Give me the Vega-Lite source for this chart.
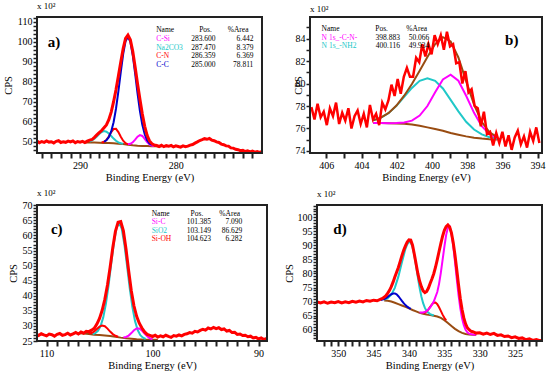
{
"$schema": "https://vega.github.io/schema/vega-lite/v6.json",
"padding": {"left": 3, "top": 1, "right": 0, "bottom": 0},
"config": {
 "view": {"stroke": null},
 "font": "Liberation Serif",
 "text": {"font": "Liberation Serif"},
 "title": {"font": "Liberation Serif", "fontSize": 9, "fontWeight": "normal", "anchor": "start", "frame": "group", "offset": 2, "color": "#000"}
},
"datasets": {
 "aComp": [
  {"s":"bg","x":289.5,"y":49.6},{"s":"bg","x":289,"y":49.6},{"s":"bg","x":288.5,"y":49.55},{"s":"bg","x":288,"y":49.5},{"s":"bg","x":287.5,"y":49.4},{"s":"bg","x":287,"y":49.3},{"s":"bg","x":286.5,"y":49.2},{"s":"bg","x":286,"y":49.0},{"s":"bg","x":285.5,"y":48.8},{"s":"bg","x":285,"y":48.5},{"s":"bg","x":284.5,"y":48.2},{"s":"bg","x":284,"y":48.0},{"s":"bg","x":283.5,"y":47.9},{"s":"bg","x":283,"y":47.8},{"s":"bg","x":282.5,"y":47.75},{"s":"bg","x":282,"y":47.7},{"s":"bg","x":281.5,"y":47.7},
  {"s":"Na2CO3","x":289,"y":50.1},{"s":"Na2CO3","x":288.75,"y":50.63},{"s":"Na2CO3","x":288.5,"y":51.47},{"s":"Na2CO3","x":288.25,"y":52.59},{"s":"Na2CO3","x":288,"y":53.83},{"s":"Na2CO3","x":287.75,"y":54.83},{"s":"Na2CO3","x":287.5,"y":55.29},{"s":"Na2CO3","x":287.25,"y":55.01},{"s":"Na2CO3","x":287,"y":54.1},{"s":"Na2CO3","x":286.75,"y":52.83},{"s":"Na2CO3","x":286.5,"y":51.55},{"s":"Na2CO3","x":286.25,"y":50.46},{"s":"Na2CO3","x":286,"y":49.69},{"s":"Na2CO3","x":285.75,"y":49.21},{"s":"Na2CO3","x":285.5,"y":48.92},
  {"s":"C-N","x":287.75,"y":49.61},{"s":"C-N","x":287.5,"y":49.96},{"s":"C-N","x":287.25,"y":50.89},{"s":"C-N","x":287,"y":52.61},{"s":"C-N","x":286.75,"y":54.78},{"s":"C-N","x":286.5,"y":56.41},{"s":"C-N","x":286.25,"y":56.42},{"s":"C-N","x":286,"y":54.79},{"s":"C-N","x":285.75,"y":52.46},{"s":"C-N","x":285.5,"y":50.51},{"s":"C-N","x":285.25,"y":49.29},{"s":"C-N","x":285,"y":48.69},
  {"s":"C-Si","x":285,"y":48.68},{"s":"C-Si","x":284.75,"y":48.95},{"s":"C-Si","x":284.5,"y":49.7},{"s":"C-Si","x":284.25,"y":51.05},{"s":"C-Si","x":284,"y":52.51},{"s":"C-Si","x":283.75,"y":53.32},{"s":"C-Si","x":283.5,"y":52.88},{"s":"C-Si","x":283.25,"y":51.45},{"s":"C-Si","x":283,"y":49.83},{"s":"C-Si","x":282.75,"y":48.67},{"s":"C-Si","x":282.5,"y":48.05},{"s":"C-Si","x":282.25,"y":47.8},
  {"s":"C-C","x":287.5,"y":49.98},{"s":"C-C","x":287.25,"y":50.72},{"s":"C-C","x":287,"y":52.26},{"s":"C-C","x":286.75,"y":55.1},{"s":"C-C","x":286.5,"y":59.75},{"s":"C-C","x":286.25,"y":66.48},{"s":"C-C","x":286,"y":75.14},{"s":"C-C","x":285.75,"y":84.8},{"s":"C-C","x":285.5,"y":93.84},{"s":"C-C","x":285.25,"y":100.26},{"s":"C-C","x":285,"y":102.5},{"s":"C-C","x":284.75,"y":99.96},{"s":"C-C","x":284.5,"y":93.24},{"s":"C-C","x":284.25,"y":84.0},{"s":"C-C","x":284,"y":74.14},{"s":"C-C","x":283.75,"y":65.33},{"s":"C-C","x":283.5,"y":58.45},{"s":"C-C","x":283.25,"y":53.7},{"s":"C-C","x":283,"y":50.76},{"s":"C-C","x":282.75,"y":49.15},{"s":"C-C","x":282.5,"y":48.33}
 ],
 "aRaw": [
  {"x":294.5,"y":50.3},{"x":294.25,"y":49.5},{"x":294,"y":50.1},{"x":293.75,"y":49.7},{"x":293.5,"y":50.4},{"x":293.25,"y":49.8},{"x":293,"y":50.0},{"x":292.75,"y":49.4},{"x":292.5,"y":50.2},{"x":292.25,"y":50.5},{"x":292,"y":49.6},{"x":291.75,"y":50.0},{"x":291.5,"y":49.7},{"x":291.25,"y":50.3},{"x":291,"y":49.9},{"x":290.75,"y":50.4},{"x":290.5,"y":49.5},{"x":290.25,"y":50.1},{"x":290,"y":49.8},{"x":289.75,"y":50.2},{"x":289.5,"y":49.6},{"x":289.25,"y":50.3},{"x":289,"y":50.8},{"x":288.75,"y":51.1},{"x":288.5,"y":52.2},{"x":288.25,"y":53.4},{"x":288,"y":54.5},{"x":287.75,"y":55.6},{"x":287.5,"y":57.0},{"x":287.25,"y":58.4},{"x":287,"y":61.0},{"x":286.75,"y":64.8},{"x":286.5,"y":70.0},{"x":286.25,"y":76.0},{"x":286,"y":82.8},{"x":285.75,"y":89.8},{"x":285.5,"y":96.6},{"x":285.25,"y":101.6},{"x":285,"y":103.3},{"x":284.75,"y":101.0},{"x":284.5,"y":95.2},{"x":284.25,"y":87.4},{"x":284,"y":79.0},{"x":283.75,"y":71.2},{"x":283.5,"y":63.8},{"x":283.25,"y":57.7},{"x":283,"y":53.2},{"x":282.75,"y":50.4},{"x":282.5,"y":49.0},{"x":282.25,"y":48.3},{"x":282,"y":48.1},{"x":281.75,"y":47.6},{"x":281.5,"y":48.2},{"x":281.25,"y":47.5},{"x":281,"y":48.0},{"x":280.75,"y":47.7},{"x":280.5,"y":48.1},{"x":280.25,"y":47.4},{"x":280,"y":47.9},{"x":279.75,"y":47.6},{"x":279.5,"y":47.3},{"x":279.25,"y":47.9},{"x":279,"y":47.5},{"x":278.75,"y":47.8},{"x":278.5,"y":48.3},{"x":278.25,"y":48.6},{"x":278,"y":49.3},{"x":277.75,"y":49.9},{"x":277.5,"y":50.6},{"x":277.25,"y":51.0},{"x":277,"y":51.5},{"x":276.75,"y":51.2},{"x":276.5,"y":51.6},{"x":276.25,"y":50.8},{"x":276,"y":50.5},{"x":275.75,"y":49.9},{"x":275.5,"y":49.6},{"x":275.25,"y":48.8},{"x":275,"y":48.5},{"x":274.75,"y":47.9},{"x":274.5,"y":47.8},{"x":274.25,"y":46.9},{"x":274,"y":46.8},{"x":273.75,"y":46.2},{"x":273.5,"y":46.0},{"x":273.25,"y":45.5},{"x":273,"y":45.7},{"x":272.75,"y":45.1},{"x":272.5,"y":45.4},{"x":272.25,"y":44.9},{"x":272,"y":45.3},{"x":271.75,"y":44.8},{"x":271.5,"y":45.1},{"x":271.25,"y":44.7},{"x":271,"y":45.0}
 ],
 "aTab": [
  {"r":0,"s":"hdr","name":"Name","pos":"Pos.","area":"%Area"},
  {"r":1,"s":"C-Si","name":"C-Si","pos":"283.600","area":"6.442"},
  {"r":2,"s":"Na2CO3","name":"Na2CO3","pos":"287.470","area":"8.379"},
  {"r":3,"s":"C-N","name":"C-N","pos":"286.359","area":"6.369"},
  {"r":4,"s":"C-C","name":"C-C","pos":"285.000","area":"78.811"}
 ],
 "bComp": [
  {"s":"bg","x":403.34,"y":76.5},{"s":"bg","x":402.9,"y":76.48},{"s":"bg","x":402.46,"y":76.47},{"s":"bg","x":402.02,"y":76.45},{"s":"bg","x":401.58,"y":76.42},{"s":"bg","x":401.14,"y":76.35},{"s":"bg","x":400.7,"y":76.25},{"s":"bg","x":400.26,"y":76.1},{"s":"bg","x":399.82,"y":75.95},{"s":"bg","x":399.38,"y":75.8},{"s":"bg","x":398.94,"y":75.6},{"s":"bg","x":398.5,"y":75.45},{"s":"bg","x":398.06,"y":75.3},{"s":"bg","x":397.61,"y":75.18},{"s":"bg","x":397.17,"y":75.1},{"s":"bg","x":396.73,"y":75.05},{"s":"bg","x":396.29,"y":75.02},
  {"s":"N 1s_-NH2","x":403.34,"y":76.72},{"s":"N 1s_-NH2","x":402.9,"y":76.96},{"s":"N 1s_-NH2","x":402.46,"y":77.38},{"s":"N 1s_-NH2","x":402.02,"y":78.01},{"s":"N 1s_-NH2","x":401.58,"y":78.81},{"s":"N 1s_-NH2","x":401.14,"y":79.61},{"s":"N 1s_-NH2","x":400.7,"y":80.24},{"s":"N 1s_-NH2","x":400.26,"y":80.47},{"s":"N 1s_-NH2","x":399.82,"y":80.24},{"s":"N 1s_-NH2","x":399.38,"y":79.56},{"s":"N 1s_-NH2","x":398.94,"y":78.55},{"s":"N 1s_-NH2","x":398.5,"y":77.52},{"s":"N 1s_-NH2","x":398.06,"y":76.6},{"s":"N 1s_-NH2","x":397.61,"y":75.91},{"s":"N 1s_-NH2","x":397.17,"y":75.47},{"s":"N 1s_-NH2","x":396.73,"y":75.22},{"s":"N 1s_-NH2","x":396.29,"y":75.09},
  {"s":"N 1s_-C-N-","x":403.34,"y":76.5},{"s":"N 1s_-C-N-","x":402.9,"y":76.48},{"s":"N 1s_-C-N-","x":402.46,"y":76.47},{"s":"N 1s_-C-N-","x":402.02,"y":76.48},{"s":"N 1s_-C-N-","x":401.58,"y":76.53},{"s":"N 1s_-C-N-","x":401.14,"y":76.7},{"s":"N 1s_-C-N-","x":400.7,"y":77.15},{"s":"N 1s_-C-N-","x":400.26,"y":78.0},{"s":"N 1s_-C-N-","x":399.82,"y":79.22},{"s":"N 1s_-C-N-","x":399.38,"y":80.37},{"s":"N 1s_-C-N-","x":398.94,"y":80.79},{"s":"N 1s_-C-N-","x":398.5,"y":80.25},{"s":"N 1s_-C-N-","x":398.06,"y":78.91},{"s":"N 1s_-C-N-","x":397.61,"y":77.39},{"s":"N 1s_-C-N-","x":397.17,"y":76.2},{"s":"N 1s_-C-N-","x":396.73,"y":75.49},{"s":"N 1s_-C-N-","x":396.29,"y":75.17},
  {"s":"env","x":403.34,"y":76.72},{"s":"env","x":402.9,"y":76.96},{"s":"env","x":402.46,"y":77.39},{"s":"env","x":402.02,"y":78.04},{"s":"env","x":401.58,"y":78.92},{"s":"env","x":401.14,"y":79.96},{"s":"env","x":400.7,"y":81.14},{"s":"env","x":400.26,"y":82.37},{"s":"env","x":399.82,"y":83.51},{"s":"env","x":399.38,"y":84.13},{"s":"env","x":398.94,"y":83.74},{"s":"env","x":398.5,"y":82.32},{"s":"env","x":398.06,"y":80.21},{"s":"env","x":397.61,"y":78.12},{"s":"env","x":397.17,"y":76.57},{"s":"env","x":396.73,"y":75.66},{"s":"env","x":396.29,"y":75.24}
 ],
 "bRaw": [
  {"x":406.85,"y":77.9},{"x":406.675,"y":76.8},{"x":406.5,"y":78.2},{"x":406.325,"y":77.0},{"x":406.15,"y":77.5},{"x":405.975,"y":76.3},{"x":405.8,"y":77.8},{"x":405.625,"y":77.1},{"x":405.45,"y":78.3},{"x":405.275,"y":76.4},{"x":405.1,"y":77.4},{"x":404.925,"y":76.7},{"x":404.75,"y":77.8},{"x":404.575,"y":76.0},{"x":404.4,"y":77.1},{"x":404.225,"y":77.6},{"x":404.05,"y":76.4},{"x":403.875,"y":77.3},{"x":403.7,"y":76.1},{"x":403.525,"y":78.1},{"x":403.35,"y":76.8},{"x":403.175,"y":77.3},{"x":403.0,"y":76.3},{"x":402.825,"y":78.3},{"x":402.65,"y":77.7},{"x":402.475,"y":78.5},{"x":402.3,"y":79.9},{"x":402.125,"y":78.9},{"x":401.95,"y":80.4},{"x":401.775,"y":79.1},{"x":401.6,"y":80.6},{"x":401.425,"y":81.4},{"x":401.25,"y":80.6},{"x":401.075,"y":80.6},{"x":400.9,"y":82.3},{"x":400.725,"y":81.9},{"x":400.55,"y":83.5},{"x":400.375,"y":82.4},{"x":400.2,"y":83.5},{"x":400.025,"y":82.6},{"x":399.85,"y":84.3},{"x":399.675,"y":83.5},{"x":399.5,"y":84.3},{"x":399.325,"y":83.0},{"x":399.15,"y":84.6},{"x":398.975,"y":83.3},{"x":398.8,"y":83.5},{"x":398.625,"y":81.8},{"x":398.45,"y":81.9},{"x":398.275,"y":80.0},{"x":398.1,"y":81.1},{"x":397.925,"y":79.2},{"x":397.75,"y":79.5},{"x":397.575,"y":78.0},{"x":397.4,"y":77.8},{"x":397.225,"y":76.2},{"x":397.05,"y":77.5},{"x":396.875,"y":75.5},{"x":396.7,"y":75.7},{"x":396.525,"y":74.5},{"x":396.35,"y":75.6},{"x":396.175,"y":74.7},{"x":396.0,"y":75.7},{"x":395.825,"y":74.4},{"x":395.65,"y":75.4},{"x":395.475,"y":74.1},{"x":395.3,"y":75.2},{"x":395.125,"y":75.8},{"x":394.95,"y":74.6},{"x":394.775,"y":75.3},{"x":394.6,"y":74.3},{"x":394.425,"y":75.7},{"x":394.25,"y":74.9},{"x":394.075,"y":76.1},{"x":393.9,"y":74.7}
 ],
 "bTab": [
  {"r":0,"s":"hdr","name":"Name","pos":"Pos.","area":"%Area"},
  {"r":1,"s":"N 1s_-C-N-","name":"N 1s_-C-N-","pos":"398.883","area":"50.066"},
  {"r":2,"s":"N 1s_-NH2","name":"N 1s_-NH2","pos":"400.116","area":"49.934"}
 ],
 "cComp": [
  {"s":"bg","x":107,"y":27.6},{"s":"bg","x":106.5,"y":27.45},{"s":"bg","x":106,"y":27.3},{"s":"bg","x":105.5,"y":27.1},{"s":"bg","x":105,"y":26.95},{"s":"bg","x":104.5,"y":26.82},{"s":"bg","x":104,"y":26.65},{"s":"bg","x":103.5,"y":26.42},{"s":"bg","x":103,"y":26.12},{"s":"bg","x":102.5,"y":25.9},{"s":"bg","x":102,"y":25.75},{"s":"bg","x":101.5,"y":25.6},{"s":"bg","x":101,"y":25.5},{"s":"bg","x":100.5,"y":25.45},{"s":"bg","x":100,"y":25.4},{"s":"bg","x":99.5,"y":25.4},
  {"s":"SiO2","x":105.65,"y":27.27},{"s":"SiO2","x":105.4,"y":27.59},{"s":"SiO2","x":105.15,"y":28.37},{"s":"SiO2","x":104.9,"y":29.97},{"s":"SiO2","x":104.65,"y":32.83},{"s":"SiO2","x":104.4,"y":37.33},{"s":"SiO2","x":104.15,"y":43.41},{"s":"SiO2","x":103.9,"y":50.54},{"s":"SiO2","x":103.65,"y":57.44},{"s":"SiO2","x":103.4,"y":62.45},{"s":"SiO2","x":103.15,"y":64.2},{"s":"SiO2","x":102.9,"y":62.15},{"s":"SiO2","x":102.65,"y":56.89},{"s":"SiO2","x":102.4,"y":49.79},{"s":"SiO2","x":102.15,"y":42.46},{"s":"SiO2","x":101.9,"y":36.23},{"s":"SiO2","x":101.65,"y":31.58},{"s":"SiO2","x":101.4,"y":28.62},{"s":"SiO2","x":101.15,"y":26.92},{"s":"SiO2","x":100.9,"y":26.09},{"s":"SiO2","x":100.65,"y":25.67},
  {"s":"Si-OH","x":106,"y":27.55},{"s":"Si-OH","x":105.75,"y":27.63},{"s":"Si-OH","x":105.5,"y":28.15},{"s":"Si-OH","x":105.25,"y":28.97},{"s":"Si-OH","x":105,"y":29.76},{"s":"Si-OH","x":104.75,"y":30.16},{"s":"Si-OH","x":104.5,"y":29.91},{"s":"Si-OH","x":104.25,"y":29.11},{"s":"Si-OH","x":104,"y":28.12},{"s":"Si-OH","x":103.75,"y":27.29},{"s":"Si-OH","x":103.5,"y":26.73},{"s":"Si-OH","x":103.25,"y":26.4},
  {"s":"Si-C","x":102.75,"y":26.15},{"s":"Si-C","x":102.5,"y":26.33},{"s":"Si-C","x":102.25,"y":26.8},{"s":"Si-C","x":102,"y":27.63},{"s":"Si-C","x":101.75,"y":28.56},{"s":"Si-C","x":101.5,"y":29.18},{"s":"Si-C","x":101.25,"y":29.18},{"s":"Si-C","x":101,"y":28.49},{"s":"Si-C","x":100.75,"y":27.48},{"s":"Si-C","x":100.5,"y":26.54},{"s":"Si-C","x":100.25,"y":25.9},{"s":"Si-C","x":100,"y":25.57}
 ],
 "cRaw": [
  {"x":111,"y":27.3},{"x":110.75,"y":26.8},{"x":110.5,"y":27.4},{"x":110.25,"y":27.0},{"x":110,"y":26.7},{"x":109.75,"y":27.3},{"x":109.5,"y":27.1},{"x":109.25,"y":26.6},{"x":109,"y":27.2},{"x":108.75,"y":27.5},{"x":108.5,"y":26.9},{"x":108.25,"y":27.1},{"x":108,"y":27.6},{"x":107.75,"y":27.0},{"x":107.5,"y":27.4},{"x":107.25,"y":27.8},{"x":107,"y":27.3},{"x":106.75,"y":28.0},{"x":106.5,"y":27.6},{"x":106.25,"y":28.2},{"x":106,"y":28.1},{"x":105.75,"y":28.6},{"x":105.5,"y":29.2},{"x":105.25,"y":30.6},{"x":105,"y":32.5},{"x":104.75,"y":35.2},{"x":104.5,"y":38.8},{"x":104.25,"y":43.6},{"x":104,"y":49.5},{"x":103.75,"y":55.9},{"x":103.5,"y":61.4},{"x":103.25,"y":64.4},{"x":103,"y":64.6},{"x":102.75,"y":61.5},{"x":102.5,"y":55.4},{"x":102.25,"y":48.2},{"x":102,"y":41.6},{"x":101.75,"y":36.6},{"x":101.5,"y":33.2},{"x":101.25,"y":30.9},{"x":101,"y":29.3},{"x":100.75,"y":28.0},{"x":100.5,"y":27.2},{"x":100.25,"y":26.9},{"x":100,"y":26.5},{"x":99.75,"y":26.9},{"x":99.5,"y":26.3},{"x":99.25,"y":26.7},{"x":99,"y":26.4},{"x":98.75,"y":26.9},{"x":98.5,"y":26.5},{"x":98.25,"y":26.2},{"x":98,"y":26.8},{"x":97.75,"y":26.6},{"x":97.5,"y":27.0},{"x":97.25,"y":26.7},{"x":97,"y":27.2},{"x":96.75,"y":27.4},{"x":96.5,"y":27.8},{"x":96.25,"y":27.6},{"x":96,"y":28.2},{"x":95.75,"y":28.0},{"x":95.5,"y":28.5},{"x":95.25,"y":28.9},{"x":95,"y":28.6},{"x":94.75,"y":29.3},{"x":94.5,"y":29.0},{"x":94.25,"y":29.5},{"x":94,"y":29.1},{"x":93.75,"y":29.4},{"x":93.5,"y":28.8},{"x":93.25,"y":29.0},{"x":93,"y":28.3},{"x":92.75,"y":28.5},{"x":92.5,"y":27.8},{"x":92.25,"y":27.9},{"x":92,"y":27.2},{"x":91.75,"y":27.3},{"x":91.5,"y":26.8},{"x":91.25,"y":26.9},{"x":91,"y":26.4},{"x":90.75,"y":26.6},{"x":90.5,"y":26.0},{"x":90.25,"y":26.2},{"x":90,"y":25.7},{"x":89.75,"y":26.0},{"x":89.5,"y":25.5},{"x":89.25,"y":25.8},{"x":89,"y":25.4},{"x":88.75,"y":25.6}
 ],
 "cTab": [
  {"r":0,"s":"hdr","name":"Name","pos":"Pos.","area":"%Area"},
  {"r":1,"s":"Si-C","name":"Si-C","pos":"101.385","area":"7.090"},
  {"r":2,"s":"SiO2","name":"SiO2","pos":"103.149","area":"86.629"},
  {"r":3,"s":"Si-OH","name":"Si-OH","pos":"104.623","area":"6.282"}
 ],
 "dComp": [
  {"s":"bg","x":343.5,"y":70.4},{"s":"bg","x":343,"y":70.3},{"s":"bg","x":342.5,"y":70.0},{"s":"bg","x":342,"y":69.6},{"s":"bg","x":341.5,"y":69.1},{"s":"bg","x":341,"y":68.6},{"s":"bg","x":340.5,"y":68.1},{"s":"bg","x":340,"y":67.6},{"s":"bg","x":339.5,"y":67.0},{"s":"bg","x":339,"y":66.5},{"s":"bg","x":338.5,"y":66.0},{"s":"bg","x":338,"y":65.7},{"s":"bg","x":337.5,"y":65.45},{"s":"bg","x":337,"y":65.25},{"s":"bg","x":336.5,"y":65.0},{"s":"bg","x":336,"y":64.7},{"s":"bg","x":335.5,"y":64.2},{"s":"bg","x":335,"y":63.4},{"s":"bg","x":334.5,"y":62.4},{"s":"bg","x":334,"y":61.3},{"s":"bg","x":333.5,"y":60.3},{"s":"bg","x":333,"y":59.5},{"s":"bg","x":332.5,"y":58.9},{"s":"bg","x":332,"y":58.5},{"s":"bg","x":331.5,"y":58.3},{"s":"bg","x":331,"y":58.2},{"s":"bg","x":330.5,"y":58.15},
  {"s":"dC","x":343.5,"y":70.72},{"s":"dC","x":343,"y":71.25},{"s":"dC","x":342.5,"y":72.43},{"s":"dC","x":342,"y":74.87},{"s":"dC","x":341.5,"y":78.85},{"s":"dC","x":341,"y":83.96},{"s":"dC","x":340.5,"y":88.72},{"s":"dC","x":340.25,"y":90.34},{"s":"dC","x":340,"y":91.18},{"s":"dC","x":339.75,"y":91.02},{"s":"dC","x":339.5,"y":89.41},{"s":"dC","x":339.25,"y":86.5},{"s":"dC","x":339,"y":82.75},{"s":"dC","x":338.75,"y":78.72},{"s":"dC","x":338.5,"y":74.93},{"s":"dC","x":338.25,"y":71.82},{"s":"dC","x":338,"y":69.42},{"s":"dC","x":337.75,"y":67.74},{"s":"dC","x":337.5,"y":66.63},{"s":"dC","x":337,"y":65.53},{"s":"dC","x":336.5,"y":65.05},
  {"s":"dB","x":344,"y":70.52},{"s":"dB","x":343.5,"y":70.9},{"s":"dB","x":343.25,"y":71.23},{"s":"dB","x":343,"y":71.69},{"s":"dB","x":342.75,"y":72.15},{"s":"dB","x":342.5,"y":72.61},{"s":"dB","x":342.25,"y":72.88},{"s":"dB","x":342,"y":72.89},{"s":"dB","x":341.75,"y":72.55},{"s":"dB","x":341.5,"y":71.92},{"s":"dB","x":341.25,"y":71.1},{"s":"dB","x":341,"y":70.23},{"s":"dB","x":340.75,"y":69.42},{"s":"dB","x":340.5,"y":68.74},{"s":"dB","x":340.25,"y":68.2},{"s":"dB","x":340,"y":67.77},{"s":"dB","x":339.75,"y":67.38},
  {"s":"dR","x":338,"y":65.95},{"s":"dR","x":337.75,"y":66.13},{"s":"dR","x":337.5,"y":66.55},{"s":"dR","x":337.25,"y":67.26},{"s":"dR","x":337,"y":68.16},{"s":"dR","x":336.75,"y":69.02},{"s":"dR","x":336.5,"y":69.61},{"s":"dR","x":336.25,"y":69.64},{"s":"dR","x":336,"y":69.08},{"s":"dR","x":335.75,"y":67.98},{"s":"dR","x":335.5,"y":66.7},{"s":"dR","x":335.25,"y":65.36},{"s":"dR","x":335,"y":64.26},{"s":"dR","x":334.75,"y":63.31},
  {"s":"dM","x":338.5,"y":66.1},{"s":"dM","x":338,"y":66.1},{"s":"dM","x":337.5,"y":66.6},{"s":"dM","x":337,"y":67.9},{"s":"dM","x":336.5,"y":70.0},{"s":"dM","x":336,"y":73.4},{"s":"dM","x":335.75,"y":76.3},{"s":"dM","x":335.5,"y":80.2},{"s":"dM","x":335.25,"y":84.8},{"s":"dM","x":335,"y":89.4},{"s":"dM","x":334.75,"y":93.6},{"s":"dM","x":334.5,"y":96.3},{"s":"dM","x":334.25,"y":96.6},{"s":"dM","x":334,"y":94.2},{"s":"dM","x":333.75,"y":89.9},{"s":"dM","x":333.5,"y":84.2},{"s":"dM","x":333.25,"y":78.1},{"s":"dM","x":333,"y":72.4},{"s":"dM","x":332.75,"y":67.7},{"s":"dM","x":332.5,"y":64.1},{"s":"dM","x":332.25,"y":61.6},{"s":"dM","x":332,"y":60.0},{"s":"dM","x":331.75,"y":59.1},{"s":"dM","x":331.5,"y":58.6},{"s":"dM","x":331,"y":58.3},{"s":"dM","x":330.5,"y":58.2}
 ],
 "dRaw": [
  {"x":353,"y":69.9},{"x":352.5,"y":69.5},{"x":352,"y":69.9},{"x":351.5,"y":69.4},{"x":351,"y":69.8},{"x":350.5,"y":69.6},{"x":350,"y":70.0},{"x":349.5,"y":69.5},{"x":349,"y":69.9},{"x":348.5,"y":69.6},{"x":348,"y":70.1},{"x":347.5,"y":69.8},{"x":347,"y":70.2},{"x":346.5,"y":69.9},{"x":346,"y":70.4},{"x":345.5,"y":70.1},{"x":345,"y":70.5},{"x":344.5,"y":70.3},{"x":344,"y":70.9},{"x":343.75,"y":71.1},{"x":343.5,"y":71.6},{"x":343.25,"y":72.1},{"x":343,"y":73.0},{"x":342.75,"y":74.0},{"x":342.5,"y":75.3},{"x":342.25,"y":76.9},{"x":342,"y":78.7},{"x":341.75,"y":80.4},{"x":341.5,"y":82.1},{"x":341.25,"y":84.2},{"x":341,"y":86.3},{"x":340.75,"y":88.2},{"x":340.5,"y":89.8},{"x":340.25,"y":91.1},{"x":340,"y":91.9},{"x":339.75,"y":91.8},{"x":339.5,"y":90.0},{"x":339.25,"y":86.9},{"x":339,"y":83.4},{"x":338.75,"y":80.0},{"x":338.5,"y":77.3},{"x":338.25,"y":75.3},{"x":338,"y":73.8},{"x":337.75,"y":73.2},{"x":337.5,"y":73.6},{"x":337.25,"y":74.8},{"x":337,"y":76.5},{"x":336.75,"y":78.1},{"x":336.5,"y":79.9},{"x":336.25,"y":82.2},{"x":336,"y":84.9},{"x":335.75,"y":87.8},{"x":335.5,"y":90.6},{"x":335.25,"y":93.2},{"x":335,"y":95.3},{"x":334.75,"y":96.6},{"x":334.5,"y":97.2},{"x":334.25,"y":96.5},{"x":334,"y":94.4},{"x":333.75,"y":91.0},{"x":333.5,"y":86.6},{"x":333.25,"y":81.4},{"x":333,"y":76.0},{"x":332.75,"y":71.1},{"x":332.5,"y":67.2},{"x":332.25,"y":64.2},{"x":332,"y":62.1},{"x":331.75,"y":60.7},{"x":331.5,"y":60.0},{"x":331.25,"y":59.5},{"x":331,"y":59.3},{"x":330.5,"y":58.8},{"x":330,"y":58.9},{"x":329.5,"y":58.4},{"x":329,"y":58.8},{"x":328.5,"y":58.3},{"x":328,"y":58.7},{"x":327.5,"y":58.0},{"x":327,"y":58.2},{"x":326.5,"y":57.6},{"x":326,"y":57.8},{"x":325.5,"y":57.2},{"x":325,"y":57.5},{"x":324.5,"y":56.9},{"x":324,"y":57.1},{"x":323.5,"y":56.5},{"x":323,"y":56.8},{"x":322.5,"y":56.2},{"x":322,"y":56.5},{"x":321.5,"y":56.1},{"x":321.2,"y":56.3}
 ]
},
"spacing": 6,
"vconcat": [
 {"spacing": 48, "bounds": "flush", "hconcat": [
  {"title": {"text": "x 10²"}, "width": 225, "height": 136,
   "resolve": {"scale": {"x": "independent", "y": "independent"}},
   "layer": [
    {"data": {"name": "aComp"}, "mark": {"type": "line", "strokeWidth": 2, "clip": true},
     "encoding": {
      "x": {"field": "x", "type": "quantitative", "scale": {"domain": [271.0, 294.5], "reverse": true, "nice": false, "zero": false},
            "axis": {"title": "Binding Energy (eV)", "values": [272,273,274,275,276,277,278,279,280,281,282,283,284,285,286,287,288,289,290,291,292,293,294], "labelExpr": "datum.value % 10 === 0 ? datum.label : ''", "format": "d", "domain": false, "grid": false, "ticks": true, "tickColor": "#222222", "tickSize": 5, "tickWidth": 2, "labelFont": "Liberation Serif", "labelFontSize": 10, "labelColor": "#000", "labelPadding": 2, "labelFlush": false, "labelOverlap": false, "titleFont": "Liberation Serif", "titleFontSize": 10.5, "titleFontWeight": "normal", "titleColor": "#000", "titlePadding": 2}},
      "y": {"field": "y", "type": "quantitative", "scale": {"domain": [44.35, 112.35], "nice": false, "zero": false},
            "axis": {"title": "CPS", "values": [46,48,50,52,54,56,58,60,62,64,66,68,70,72,74,76,78,80,82,84,86,88,90,92,94,96,98,100,102,104,106,108,110,112], "labelExpr": "datum.value % 10 === 0 ? datum.label : ''", "format": "d", "minExtent": 21, "maxExtent": 21, "domain": false, "grid": false, "ticks": true, "tickColor": "#222222", "tickSize": 4, "tickWidth": 1.5, "labelFont": "Liberation Serif", "labelFontSize": 10, "labelColor": "#000", "labelPadding": 1, "labelOverlap": false, "titleFont": "Liberation Serif", "titleFontSize": 10.5, "titleFontWeight": "normal", "titleColor": "#000", "titlePadding": 3}},
      "color": {"field": "s", "type": "nominal", "legend": null, "scale": {"domain": ["raw","bg","env","hdr","C-Si","Na2CO3","C-N","C-C","N 1s_-C-N-","N 1s_-NH2","Si-C","SiO2","Si-OH","dM","dC","dR","dB"], "range": ["#ff0000","#994c12","#994c12","#000000","#ff00ff","#20c8c8","#ff0000","#0000cc","#ff00ff","#20c8c8","#ff00ff","#20c8c8","#ff0000","#ff00ff","#20c8c8","#ff0000","#0000cc"]}}
     }},
    {"data": {"name": "aRaw"}, "mark": {"type": "line", "strokeWidth": 3, "color": "#ff0000", "clip": true},
     "encoding": {
      "x": {"field": "x", "type": "quantitative", "scale": {"domain": [271.0, 294.5], "reverse": true, "nice": false, "zero": false}, "axis": null},
      "y": {"field": "y", "type": "quantitative", "scale": {"domain": [44.35, 112.35], "nice": false, "zero": false}, "axis": null}
     }},
    {"data": {"values": [{"k": 1}]}, "mark": {"type": "rect", "filled": false, "color": "#222222", "strokeWidth": 2},
     "encoding": {
      "x": {"datum": 271.0, "type": "quantitative", "scale": {"domain": [271.0, 294.5], "reverse": true, "nice": false, "zero": false}, "axis": null},
      "x2": {"datum": 294.5},
      "y": {"datum": 44.35, "type": "quantitative", "scale": {"domain": [44.35, 112.35], "nice": false, "zero": false}, "axis": null},
      "y2": {"datum": 112.35}
     }},
    {"data": {"name": "aTab"}, "mark": {"type": "text", "align": "left", "baseline": "middle", "fontSize": 7.5},
     "encoding": {
      "x": {"datum": 282.05, "type": "quantitative", "scale": {"domain": [271.0, 294.5], "reverse": true, "nice": false, "zero": false}, "axis": null},
      "y": {"field": "r", "type": "quantitative", "scale": {"domain": [-1.49, 14.06], "reverse": true, "nice": false, "zero": false}, "axis": null},
      "text": {"field": "name"},
      "color": {"field": "s", "type": "nominal", "legend": null, "scale": {"domain": ["raw","bg","env","hdr","C-Si","Na2CO3","C-N","C-C","N 1s_-C-N-","N 1s_-NH2","Si-C","SiO2","Si-OH","dM","dC","dR","dB"], "range": ["#ff0000","#994c12","#994c12","#000000","#ff00ff","#20c8c8","#ff0000","#0000cc","#ff00ff","#20c8c8","#ff00ff","#20c8c8","#ff0000","#ff00ff","#20c8c8","#ff0000","#0000cc"]}}
     }},
    {"data": {"name": "aTab"}, "transform": [{"filter": "datum.r > 0"}], "mark": {"type": "text", "align": "right", "baseline": "middle", "fontSize": 7.5, "color": "#000"},
     "encoding": {
      "x": {"datum": 275.85, "type": "quantitative", "scale": {"domain": [271.0, 294.5], "reverse": true, "nice": false, "zero": false}, "axis": null},
      "y": {"field": "r", "type": "quantitative", "scale": {"domain": [-1.49, 14.06], "reverse": true, "nice": false, "zero": false}, "axis": null},
      "text": {"field": "pos"}
     }},
    {"data": {"name": "aTab"}, "transform": [{"filter": "datum.r > 0"}], "mark": {"type": "text", "align": "right", "baseline": "middle", "fontSize": 7.5, "color": "#000"},
     "encoding": {
      "x": {"datum": 271.9, "type": "quantitative", "scale": {"domain": [271.0, 294.5], "reverse": true, "nice": false, "zero": false}, "axis": null},
      "y": {"field": "r", "type": "quantitative", "scale": {"domain": [-1.49, 14.06], "reverse": true, "nice": false, "zero": false}, "axis": null},
      "text": {"field": "area"}
     }},
    {"data": {"name": "aTab"}, "transform": [{"filter": "datum.r == 0"}], "mark": {"type": "text", "align": "center", "baseline": "middle", "fontSize": 7.5, "color": "#000"},
     "encoding": {
      "x": {"datum": 276.9, "type": "quantitative", "scale": {"domain": [271.0, 294.5], "reverse": true, "nice": false, "zero": false}, "axis": null},
      "y": {"field": "r", "type": "quantitative", "scale": {"domain": [-1.49, 14.06], "reverse": true, "nice": false, "zero": false}, "axis": null},
      "text": {"field": "pos"}
     }},
    {"data": {"name": "aTab"}, "transform": [{"filter": "datum.r == 0"}], "mark": {"type": "text", "align": "center", "baseline": "middle", "fontSize": 7.5, "color": "#000"},
     "encoding": {
      "x": {"datum": 273.5, "type": "quantitative", "scale": {"domain": [271.0, 294.5], "reverse": true, "nice": false, "zero": false}, "axis": null},
      "y": {"field": "r", "type": "quantitative", "scale": {"domain": [-1.49, 14.06], "reverse": true, "nice": false, "zero": false}, "axis": null},
      "text": {"field": "area"}
     }},
    {"data": {"name": "aTab"}, "transform": [{"filter": "datum.r == 0"}], "mark": {"type": "text", "align": "center", "baseline": "middle", "fontSize": 15, "fontWeight": "bold", "color": "#000"},
     "encoding": {
      "x": {"datum": 292.73, "type": "quantitative", "scale": {"domain": [271.0, 294.5], "reverse": true, "nice": false, "zero": false}, "axis": null},
      "y": {"datum": 100, "type": "quantitative", "scale": {"domain": [44.35, 112.35], "nice": false, "zero": false}, "axis": null},
      "text": {"value": "a)"}
     }}
   ]},
  {"title": {"text": "x 10²"}, "width": 232, "height": 136,
   "resolve": {"scale": {"x": "independent", "y": "independent"}},
   "layer": [
    {"data": {"name": "bComp"}, "mark": {"type": "line", "strokeWidth": 2, "clip": true},
     "encoding": {
      "x": {"field": "x", "type": "quantitative", "scale": {"domain": [393.75, 406.93], "reverse": true, "nice": false, "zero": false},
            "axis": {"title": "Binding Energy (eV)", "values": [394,394.5,395,395.5,396,396.5,397,397.5,398,398.5,399,399.5,400,400.5,401,401.5,402,402.5,403,403.5,404,404.5,405,405.5,406,406.5], "labelExpr": "datum.value % 2 === 0 ? datum.label : ''", "format": "d", "domain": false, "grid": false, "ticks": true, "tickColor": "#222222", "tickSize": 5, "tickWidth": 2, "labelFont": "Liberation Serif", "labelFontSize": 10, "labelColor": "#000", "labelPadding": 2, "labelFlush": false, "labelOverlap": false, "titleFont": "Liberation Serif", "titleFontSize": 10.5, "titleFontWeight": "normal", "titleColor": "#000", "titlePadding": 2}},
      "y": {"field": "y", "type": "quantitative", "scale": {"domain": [73.82, 85.92], "nice": false, "zero": false},
            "axis": {"title": "CPS", "values": [74,74.5,75,75.5,76,76.5,77,77.5,78,78.5,79,79.5,80,80.5,81,81.5,82,82.5,83,83.5,84,84.5,85,85.5], "labelExpr": "datum.value % 2 === 0 ? datum.label : ''", "format": "d", "minExtent": 16, "maxExtent": 16, "domain": false, "grid": false, "ticks": true, "tickColor": "#222222", "tickSize": 4, "tickWidth": 1.5, "labelFont": "Liberation Serif", "labelFontSize": 10, "labelColor": "#000", "labelPadding": 1, "labelOverlap": false, "titleFont": "Liberation Serif", "titleFontSize": 10.5, "titleFontWeight": "normal", "titleColor": "#000", "titlePadding": -9}},
      "color": {"field": "s", "type": "nominal", "legend": null, "scale": {"domain": ["raw","bg","env","hdr","C-Si","Na2CO3","C-N","C-C","N 1s_-C-N-","N 1s_-NH2","Si-C","SiO2","Si-OH","dM","dC","dR","dB"], "range": ["#ff0000","#994c12","#994c12","#000000","#ff00ff","#20c8c8","#ff0000","#0000cc","#ff00ff","#20c8c8","#ff00ff","#20c8c8","#ff0000","#ff00ff","#20c8c8","#ff0000","#0000cc"]}}
     }},
    {"data": {"name": "bRaw"}, "mark": {"type": "line", "strokeWidth": 2.5, "color": "#ff0000", "clip": true},
     "encoding": {
      "x": {"field": "x", "type": "quantitative", "scale": {"domain": [393.75, 406.93], "reverse": true, "nice": false, "zero": false}, "axis": null},
      "y": {"field": "y", "type": "quantitative", "scale": {"domain": [73.82, 85.92], "nice": false, "zero": false}, "axis": null}
     }},
    {"data": {"values": [{"k": 1}]}, "mark": {"type": "rect", "filled": false, "color": "#222222", "strokeWidth": 2},
     "encoding": {
      "x": {"datum": 393.75, "type": "quantitative", "scale": {"domain": [393.75, 406.93], "reverse": true, "nice": false, "zero": false}, "axis": null},
      "x2": {"datum": 406.93},
      "y": {"datum": 73.82, "type": "quantitative", "scale": {"domain": [73.82, 85.92], "nice": false, "zero": false}, "axis": null},
      "y2": {"datum": 85.92}
     }},
    {"data": {"name": "bTab"}, "mark": {"type": "text", "align": "left", "baseline": "middle", "fontSize": 7.5},
     "encoding": {
      "x": {"datum": 406.27, "type": "quantitative", "scale": {"domain": [393.75, 406.93], "reverse": true, "nice": false, "zero": false}, "axis": null},
      "y": {"field": "r", "type": "quantitative", "scale": {"domain": [-1.35, 14.19], "reverse": true, "nice": false, "zero": false}, "axis": null},
      "text": {"field": "name"},
      "color": {"field": "s", "type": "nominal", "legend": null, "scale": {"domain": ["raw","bg","env","hdr","C-Si","Na2CO3","C-N","C-C","N 1s_-C-N-","N 1s_-NH2","Si-C","SiO2","Si-OH","dM","dC","dR","dB"], "range": ["#ff0000","#994c12","#994c12","#000000","#ff00ff","#20c8c8","#ff0000","#0000cc","#ff00ff","#20c8c8","#ff00ff","#20c8c8","#ff0000","#ff00ff","#20c8c8","#ff0000","#0000cc"]}}
     }},
    {"data": {"name": "bTab"}, "transform": [{"filter": "datum.r > 0"}], "mark": {"type": "text", "align": "right", "baseline": "middle", "fontSize": 7.5, "color": "#000"},
     "encoding": {
      "x": {"datum": 401.82, "type": "quantitative", "scale": {"domain": [393.75, 406.93], "reverse": true, "nice": false, "zero": false}, "axis": null},
      "y": {"field": "r", "type": "quantitative", "scale": {"domain": [-1.35, 14.19], "reverse": true, "nice": false, "zero": false}, "axis": null},
      "text": {"field": "pos"}
     }},
    {"data": {"name": "bTab"}, "transform": [{"filter": "datum.r > 0"}], "mark": {"type": "text", "align": "right", "baseline": "middle", "fontSize": 7.5, "color": "#000"},
     "encoding": {
      "x": {"datum": 400.15, "type": "quantitative", "scale": {"domain": [393.75, 406.93], "reverse": true, "nice": false, "zero": false}, "axis": null},
      "y": {"field": "r", "type": "quantitative", "scale": {"domain": [-1.35, 14.19], "reverse": true, "nice": false, "zero": false}, "axis": null},
      "text": {"field": "area"}
     }},
    {"data": {"name": "bTab"}, "transform": [{"filter": "datum.r == 0"}], "mark": {"type": "text", "align": "center", "baseline": "middle", "fontSize": 7.5, "color": "#000"},
     "encoding": {
      "x": {"datum": 402.86, "type": "quantitative", "scale": {"domain": [393.75, 406.93], "reverse": true, "nice": false, "zero": false}, "axis": null},
      "y": {"field": "r", "type": "quantitative", "scale": {"domain": [-1.35, 14.19], "reverse": true, "nice": false, "zero": false}, "axis": null},
      "text": {"field": "pos"}
     }},
    {"data": {"name": "bTab"}, "transform": [{"filter": "datum.r == 0"}], "mark": {"type": "text", "align": "center", "baseline": "middle", "fontSize": 7.5, "color": "#000"},
     "encoding": {
      "x": {"datum": 400.87, "type": "quantitative", "scale": {"domain": [393.75, 406.93], "reverse": true, "nice": false, "zero": false}, "axis": null},
      "y": {"field": "r", "type": "quantitative", "scale": {"domain": [-1.35, 14.19], "reverse": true, "nice": false, "zero": false}, "axis": null},
      "text": {"field": "area"}
     }},
    {"data": {"name": "bTab"}, "transform": [{"filter": "datum.r == 0"}], "mark": {"type": "text", "align": "center", "baseline": "middle", "fontSize": 15, "fontWeight": "bold", "color": "#000"},
     "encoding": {
      "x": {"datum": 395.47, "type": "quantitative", "scale": {"domain": [393.75, 406.93], "reverse": true, "nice": false, "zero": false}, "axis": null},
      "y": {"datum": 83.87, "type": "quantitative", "scale": {"domain": [73.82, 85.92], "nice": false, "zero": false}, "axis": null},
      "text": {"value": "b)"}
     }}
   ]}
 ]},
 {"spacing": 50, "bounds": "flush", "hconcat": [
  {"title": {"text": "x 10²"}, "width": 230, "height": 136,
   "resolve": {"scale": {"x": "independent", "y": "independent"}},
   "layer": [
    {"data": {"name": "cComp"}, "mark": {"type": "line", "strokeWidth": 2, "clip": true},
     "encoding": {
      "x": {"field": "x", "type": "quantitative", "scale": {"domain": [89.2, 110.9], "reverse": true, "nice": false, "zero": false},
            "axis": {"title": "Binding Energy (eV)", "values": [90,91,92,93,94,95,96,97,98,99,100,101,102,103,104,105,106,107,108,109,110], "labelExpr": "datum.value % 10 === 0 ? datum.label : ''", "format": "d", "domain": false, "grid": false, "ticks": true, "tickColor": "#222222", "tickSize": 5, "tickWidth": 2, "labelFont": "Liberation Serif", "labelFontSize": 10, "labelColor": "#000", "labelPadding": 2, "labelFlush": false, "labelOverlap": false, "titleFont": "Liberation Serif", "titleFontSize": 10.5, "titleFontWeight": "normal", "titleColor": "#000", "titlePadding": 2}},
      "y": {"field": "y", "type": "quantitative", "scale": {"domain": [25.0, 70.1], "nice": false, "zero": false},
            "axis": {"title": "CPS", "values": [25,26,27,28,29,30,31,32,33,34,35,36,37,38,39,40,41,42,43,44,45,46,47,48,49,50,51,52,53,54,55,56,57,58,59,60,61,62,63,64,65,66,67,68,69,70], "labelExpr": "datum.value % 5 === 0 ? datum.label : ''", "format": "d", "minExtent": 16, "maxExtent": 16, "domain": false, "grid": false, "ticks": true, "tickColor": "#222222", "tickSize": 4, "tickWidth": 1.5, "labelFont": "Liberation Serif", "labelFontSize": 10, "labelColor": "#000", "labelPadding": 1, "labelOverlap": false, "titleFont": "Liberation Serif", "titleFontSize": 10.5, "titleFontWeight": "normal", "titleColor": "#000", "titlePadding": 2.5}},
      "color": {"field": "s", "type": "nominal", "legend": null, "scale": {"domain": ["raw","bg","env","hdr","C-Si","Na2CO3","C-N","C-C","N 1s_-C-N-","N 1s_-NH2","Si-C","SiO2","Si-OH","dM","dC","dR","dB"], "range": ["#ff0000","#994c12","#994c12","#000000","#ff00ff","#20c8c8","#ff0000","#0000cc","#ff00ff","#20c8c8","#ff00ff","#20c8c8","#ff0000","#ff00ff","#20c8c8","#ff0000","#0000cc"]}}
     }},
    {"data": {"name": "cRaw"}, "mark": {"type": "line", "strokeWidth": 3, "color": "#ff0000", "clip": true},
     "encoding": {
      "x": {"field": "x", "type": "quantitative", "scale": {"domain": [89.2, 110.9], "reverse": true, "nice": false, "zero": false}, "axis": null},
      "y": {"field": "y", "type": "quantitative", "scale": {"domain": [25.0, 70.1], "nice": false, "zero": false}, "axis": null}
     }},
    {"data": {"values": [{"k": 1}]}, "mark": {"type": "rect", "filled": false, "color": "#222222", "strokeWidth": 2},
     "encoding": {
      "x": {"datum": 89.2, "type": "quantitative", "scale": {"domain": [89.2, 110.9], "reverse": true, "nice": false, "zero": false}, "axis": null},
      "x2": {"datum": 110.9},
      "y": {"datum": 25.0, "type": "quantitative", "scale": {"domain": [25.0, 70.1], "nice": false, "zero": false}, "axis": null},
      "y2": {"datum": 70.1}
     }},
    {"data": {"name": "cTab"}, "mark": {"type": "text", "align": "left", "baseline": "middle", "fontSize": 7.5},
     "encoding": {
      "x": {"datum": 100.08, "type": "quantitative", "scale": {"domain": [89.2, 110.9], "reverse": true, "nice": false, "zero": false}, "axis": null},
      "y": {"field": "r", "type": "quantitative", "scale": {"domain": [-1.04, 15.15], "reverse": true, "nice": false, "zero": false}, "axis": null},
      "text": {"field": "name"},
      "color": {"field": "s", "type": "nominal", "legend": null, "scale": {"domain": ["raw","bg","env","hdr","C-Si","Na2CO3","C-N","C-C","N 1s_-C-N-","N 1s_-NH2","Si-C","SiO2","Si-OH","dM","dC","dR","dB"], "range": ["#ff0000","#994c12","#994c12","#000000","#ff00ff","#20c8c8","#ff0000","#0000cc","#ff00ff","#20c8c8","#ff00ff","#20c8c8","#ff0000","#ff00ff","#20c8c8","#ff0000","#0000cc"]}}
     }},
    {"data": {"name": "cTab"}, "transform": [{"filter": "datum.r > 0"}], "mark": {"type": "text", "align": "right", "baseline": "middle", "fontSize": 7.5, "color": "#000"},
     "encoding": {
      "x": {"datum": 94.48, "type": "quantitative", "scale": {"domain": [89.2, 110.9], "reverse": true, "nice": false, "zero": false}, "axis": null},
      "y": {"field": "r", "type": "quantitative", "scale": {"domain": [-1.04, 15.15], "reverse": true, "nice": false, "zero": false}, "axis": null},
      "text": {"field": "pos"}
     }},
    {"data": {"name": "cTab"}, "transform": [{"filter": "datum.r > 0"}], "mark": {"type": "text", "align": "right", "baseline": "middle", "fontSize": 7.5, "color": "#000"},
     "encoding": {
      "x": {"datum": 91.53, "type": "quantitative", "scale": {"domain": [89.2, 110.9], "reverse": true, "nice": false, "zero": false}, "axis": null},
      "y": {"field": "r", "type": "quantitative", "scale": {"domain": [-1.04, 15.15], "reverse": true, "nice": false, "zero": false}, "axis": null},
      "text": {"field": "area"}
     }},
    {"data": {"name": "cTab"}, "transform": [{"filter": "datum.r == 0"}], "mark": {"type": "text", "align": "center", "baseline": "middle", "fontSize": 7.5, "color": "#000"},
     "encoding": {
      "x": {"datum": 95.81, "type": "quantitative", "scale": {"domain": [89.2, 110.9], "reverse": true, "nice": false, "zero": false}, "axis": null},
      "y": {"field": "r", "type": "quantitative", "scale": {"domain": [-1.04, 15.15], "reverse": true, "nice": false, "zero": false}, "axis": null},
      "text": {"field": "pos"}
     }},
    {"data": {"name": "cTab"}, "transform": [{"filter": "datum.r == 0"}], "mark": {"type": "text", "align": "center", "baseline": "middle", "fontSize": 7.5, "color": "#000"},
     "encoding": {
      "x": {"datum": 92.72, "type": "quantitative", "scale": {"domain": [89.2, 110.9], "reverse": true, "nice": false, "zero": false}, "axis": null},
      "y": {"field": "r", "type": "quantitative", "scale": {"domain": [-1.04, 15.15], "reverse": true, "nice": false, "zero": false}, "axis": null},
      "text": {"field": "area"}
     }},
    {"data": {"name": "cTab"}, "transform": [{"filter": "datum.r == 0"}], "mark": {"type": "text", "align": "center", "baseline": "middle", "fontSize": 15, "fontWeight": "bold", "color": "#000"},
     "encoding": {
      "x": {"datum": 109.04, "type": "quantitative", "scale": {"domain": [89.2, 110.9], "reverse": true, "nice": false, "zero": false}, "axis": null},
      "y": {"datum": 62.25, "type": "quantitative", "scale": {"domain": [25.0, 70.1], "nice": false, "zero": false}, "axis": null},
      "text": {"value": "c)"}
     }}
   ]},
  {"title": {"text": "x 10²"}, "width": 225, "height": 136,
   "resolve": {"scale": {"x": "independent", "y": "independent"}},
   "layer": [
    {"data": {"name": "dComp"}, "mark": {"type": "line", "strokeWidth": 2, "clip": true},
     "encoding": {
      "x": {"field": "x", "type": "quantitative", "scale": {"domain": [321.2, 353.0], "reverse": true, "nice": false, "zero": false},
            "axis": {"title": "Binding Energy (eV)", "values": [322,323,324,325,326,327,328,329,330,331,332,333,334,335,336,337,338,339,340,341,342,343,344,345,346,347,348,349,350,351,352], "labelExpr": "datum.value % 5 === 0 ? datum.label : ''", "format": "d", "domain": false, "grid": false, "ticks": true, "tickColor": "#222222", "tickSize": 5, "tickWidth": 2, "labelFont": "Liberation Serif", "labelFontSize": 10, "labelColor": "#000", "labelPadding": 2, "labelFlush": false, "labelOverlap": false, "titleFont": "Liberation Serif", "titleFontSize": 10.5, "titleFontWeight": "normal", "titleColor": "#000", "titlePadding": 2}},
      "y": {"field": "y", "type": "quantitative", "scale": {"domain": [56.0, 104.3], "nice": false, "zero": false},
            "axis": {"title": "CPS", "values": [57,58,59,60,61,62,63,64,65,66,67,68,69,70,71,72,73,74,75,76,77,78,79,80,81,82,83,84,85,86,87,88,89,90,91,92,93,94,95,96,97,98,99,100,101,102,103,104], "labelExpr": "datum.value % 5 === 0 ? datum.label : ''", "format": "d", "minExtent": 21, "maxExtent": 21, "domain": false, "grid": false, "ticks": true, "tickColor": "#222222", "tickSize": 4, "tickWidth": 1.5, "labelFont": "Liberation Serif", "labelFontSize": 10, "labelColor": "#000", "labelPadding": 1, "labelOverlap": false, "titleFont": "Liberation Serif", "titleFontSize": 10.5, "titleFontWeight": "normal", "titleColor": "#000", "titlePadding": 2}},
      "color": {"field": "s", "type": "nominal", "legend": null, "scale": {"domain": ["raw","bg","env","hdr","C-Si","Na2CO3","C-N","C-C","N 1s_-C-N-","N 1s_-NH2","Si-C","SiO2","Si-OH","dM","dC","dR","dB"], "range": ["#ff0000","#994c12","#994c12","#000000","#ff00ff","#20c8c8","#ff0000","#0000cc","#ff00ff","#20c8c8","#ff00ff","#20c8c8","#ff0000","#ff00ff","#20c8c8","#ff0000","#0000cc"]}}
     }},
    {"data": {"name": "dRaw"}, "mark": {"type": "line", "strokeWidth": 3, "color": "#ff0000", "clip": true},
     "encoding": {
      "x": {"field": "x", "type": "quantitative", "scale": {"domain": [321.2, 353.0], "reverse": true, "nice": false, "zero": false}, "axis": null},
      "y": {"field": "y", "type": "quantitative", "scale": {"domain": [56.0, 104.3], "nice": false, "zero": false}, "axis": null}
     }},
    {"data": {"values": [{"k": 1}]}, "mark": {"type": "rect", "filled": false, "color": "#222222", "strokeWidth": 2},
     "encoding": {
      "x": {"datum": 321.2, "type": "quantitative", "scale": {"domain": [321.2, 353.0], "reverse": true, "nice": false, "zero": false}, "axis": null},
      "x2": {"datum": 353.0},
      "y": {"datum": 56.0, "type": "quantitative", "scale": {"domain": [56.0, 104.3], "nice": false, "zero": false}, "axis": null},
      "y2": {"datum": 104.3}
     }},
    {"data": {"values": [{"k": 1}]}, "mark": {"type": "text", "align": "center", "baseline": "middle", "fontSize": 15, "fontWeight": "bold", "color": "#000"},
     "encoding": {
      "x": {"datum": 349.75, "type": "quantitative", "scale": {"domain": [321.2, 353.0], "reverse": true, "nice": false, "zero": false}, "axis": null},
      "y": {"datum": 95.6, "type": "quantitative", "scale": {"domain": [56.0, 104.3], "nice": false, "zero": false}, "axis": null},
      "text": {"value": "d)"}
     }}
   ]}
 ]}
]
}
